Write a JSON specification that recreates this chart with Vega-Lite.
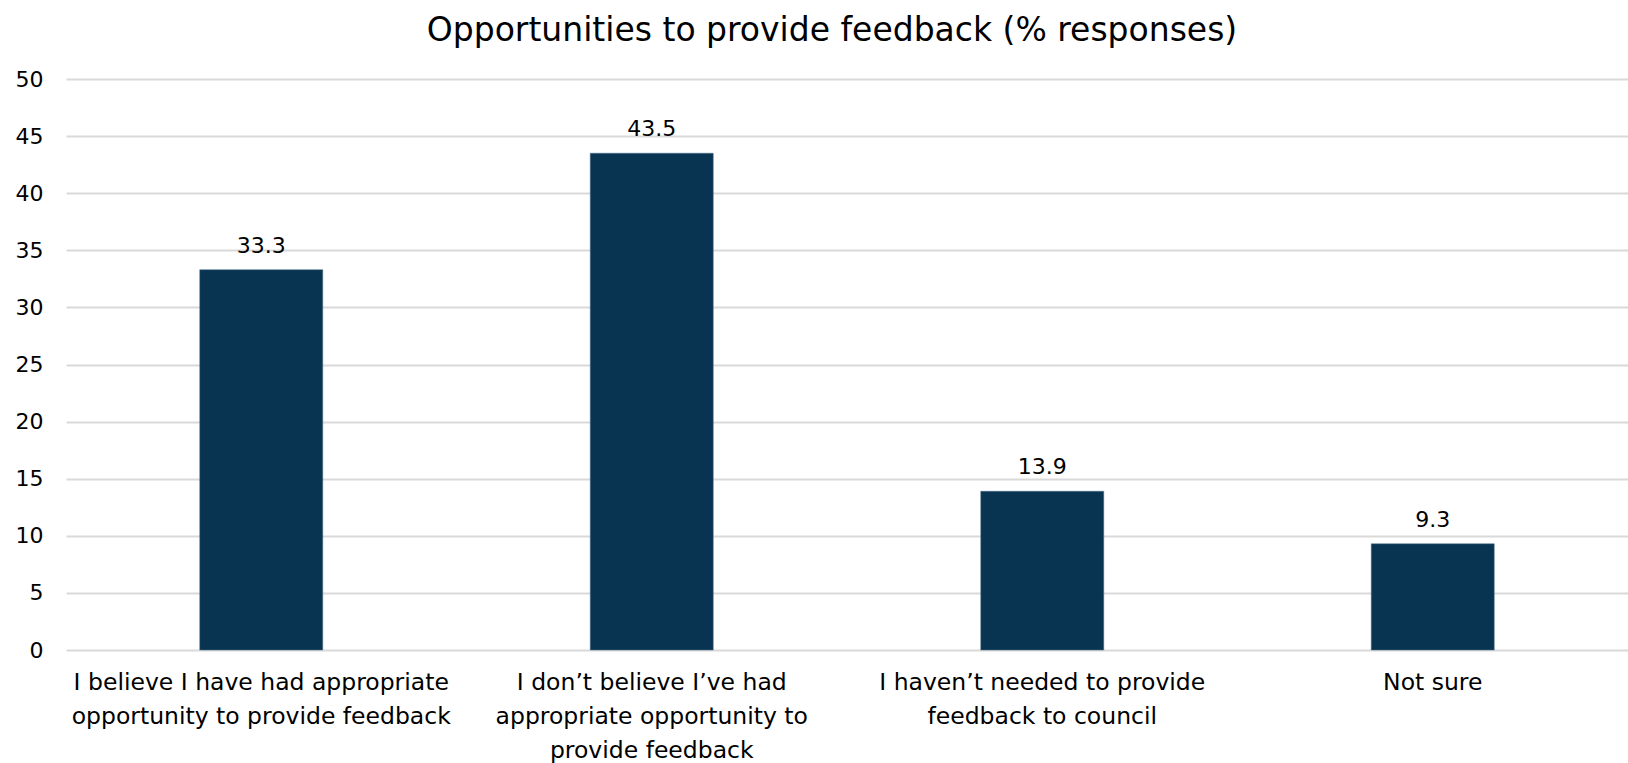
{
  "$schema": "https://vega.github.io/schema/vega-lite/v6.json",
  "autosize": {"type": "none"},
  "padding": {"left": 66, "top": 79, "right": 0, "bottom": 113},
  "width": 1562,
  "height": 571,
  "background": "white",
  "title": {
    "text": "Opportunities to provide feedback (% responses)",
    "font": "DejaVu Sans",
    "fontSize": 33,
    "fontWeight": "normal",
    "color": "#000000",
    "anchor": "middle",
    "dx": -15,
    "offset": 20
  },
  "data": {
    "values": [
      {"category": "I believe I have had appropriate\nopportunity to provide feedback", "value": 33.3},
      {"category": "I don’t believe I’ve had\nappropriate opportunity to\nprovide feedback", "value": 43.5},
      {"category": "I haven’t needed to provide\nfeedback to council", "value": 13.9},
      {"category": "Not sure", "value": 9.3}
    ]
  },
  "config": {
    "view": {"stroke": null},
    "font": "DejaVu Sans"
  },
  "encoding": {
    "x": {
      "field": "category",
      "type": "nominal",
      "sort": null,
      "scale": {"paddingInner": 0.685, "paddingOuter": 0.3425},
      "axis": {
        "title": null,
        "labelAngle": 0,
        "labelExpr": "split(datum.value, '\\n')",
        "labelFont": "DejaVu Sans",
        "labelFontSize": 23.5,
        "labelColor": "#000000",
        "labelLineHeight": 34,
        "labelPadding": 20,
        "labelBaseline": "top",
        "labelLimit": 0,
        "ticks": false,
        "domain": false,
        "grid": false
      }
    },
    "y": {
      "field": "value",
      "type": "quantitative",
      "scale": {"domain": [0, 50], "nice": false},
      "axis": {
        "title": null,
        "values": [0, 5, 10, 15, 20, 25, 30, 35, 40, 45, 50],
        "labelFont": "DejaVu Sans",
        "labelFontSize": 22,
        "labelColor": "#000000",
        "labelPadding": 23,
        "ticks": false,
        "domain": false,
        "grid": true,
        "gridColor": "#d9d9d9",
        "gridWidth": 2
      }
    }
  },
  "layer": [
    {
      "mark": {"type": "bar", "color": "#083452", "stroke": "#4d6f8a", "strokeWidth": 0.5}
    },
    {
      "mark": {"type": "text", "baseline": "alphabetic", "dy": -17, "fontSize": 22, "color": "#000000", "font": "DejaVu Sans"},
      "encoding": {"text": {"field": "value", "type": "quantitative", "format": ".1f"}}
    }
  ]
}
